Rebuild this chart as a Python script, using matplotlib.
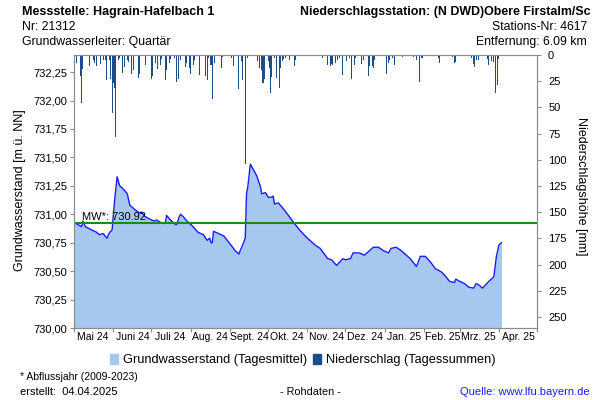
import pandas as pd
import matplotlib
matplotlib.use('Agg')
import matplotlib.pyplot as plt
from matplotlib.patches import Patch
from matplotlib.ticker import FuncFormatter

plt.rcParams['font.family'] = ['Liberation Sans', 'DejaVu Sans']

# days counted from 01.05.2024
start = pd.Timestamp('2024-05-01')

gw_days = [0, 6, 7, 9, 18, 20, 23, 26, 28, 30, 32, 34, 36, 39, 42, 44, 48, 52, 53, 56,
           61, 64, 65, 68, 69, 72, 73, 76, 77, 80, 81, 83, 84, 86, 89, 93, 98, 102, 105, 107,
           108, 109, 110, 114, 118, 123, 127, 130, 131, 133, 135, 136, 137, 139, 141, 144, 147, 148, 151, 153,
           156, 157, 158, 161, 165, 169, 173, 178, 183, 190, 194, 200, 203, 207, 212, 214, 218, 220, 225, 229,
           233, 236, 240, 244, 248, 250, 254, 258, 265, 270, 273, 277, 281, 285, 287, 290, 294, 296, 300, 301,
           304, 308, 311, 315, 317, 319, 322, 327, 331, 333, 335, 337]
gw_level = [730.93, 730.89, 730.94, 730.89, 730.84, 730.82, 730.83, 730.79, 730.84, 730.86,
            731.12, 731.33, 731.25, 731.22, 731.18, 731.08, 731.04, 731.01, 731.02, 730.98,
            730.95, 730.94, 730.95, 730.93, 730.92, 730.92, 730.99, 730.95, 730.94, 730.91,
            730.91, 730.98, 731.00, 730.98, 730.94, 730.90, 730.84, 730.82, 730.77, 730.79,
            730.75, 730.75, 730.85, 730.83, 730.81, 730.74, 730.68, 730.65, 730.68, 730.73,
            730.79, 731.18, 731.24, 731.44, 731.40, 731.34, 731.24, 731.18, 731.19, 731.15,
            731.15, 731.16, 731.09, 731.10, 731.05, 730.99, 730.93, 730.86, 730.80, 730.73,
            730.70, 730.61, 730.60, 730.55, 730.61, 730.60, 730.61, 730.66, 730.66, 730.64,
            730.68, 730.71, 730.71, 730.68, 730.66, 730.70, 730.71, 730.68, 730.61, 730.54,
            730.63, 730.63, 730.58, 730.52, 730.51, 730.49, 730.44, 730.41, 730.40, 730.43,
            730.41, 730.39, 730.36, 730.35, 730.39, 730.38, 730.35, 730.41, 730.45, 730.63,
            730.73, 730.75]

rain_days = [2, 5, 6, 7, 12, 15, 16, 18, 21, 23, 25, 26, 28, 29, 30, 31, 32, 33, 35, 36,
             38, 40, 42, 43, 45, 47, 51, 52, 56, 61, 62, 64, 66, 68, 69, 72, 73, 75, 76, 79,
             81, 82, 84, 88, 89, 91, 92, 94, 95, 99, 104, 105, 106, 108, 109, 111, 116, 117, 124, 126,
             130, 132, 133, 135, 137, 145, 146, 148, 149, 150, 153, 154, 155, 156, 158, 160, 162, 163, 164, 165,
             167, 170, 174, 175, 196, 200, 202, 203, 204, 206, 208, 209, 212, 215, 217, 219, 221, 222, 227, 228,
             232, 233, 235, 236, 237, 246, 248, 249, 251, 253, 259, 268, 270, 272, 274, 275, 287, 288, 298, 300,
             301, 313, 315, 316, 317, 319, 326, 327, 329, 331, 332, 334, 335]
rain_mm = [7.6, 19.7, 45.5, 13.4, 10.8, 4.5, 7.6, 10.2, 8.3, 5, 4.5, 24, 4.5, 23, 55.6, 26.7, 31.5, 78, 4.5, 2.9,
           17.2, 11.4, 4.5, 6.7, 17.8, 14, 22, 17.8, 9.2, 23, 20.4, 7.6, 13.4, 9.2, 3.8, 23.5, 14, 7.6, 3.8, 2.9,
           26, 23, 5, 11.4, 7.6, 12.4, 17.8, 9.2, 4.5, 18.8, 19.7, 24, 2.9, 9.2, 42, 7.6, 12.4, 1.9, 2.9, 10.2,
           32, 6, 23.5, 104, 2.9, 6, 12.4, 14, 27, 23, 6, 12.4, 36, 21, 2.9, 22, 31.5, 12.4, 6, 3.8,
           2.9, 5, 10.8, 4.5, 2.9, 9.2, 10.8, 8.3, 9.2, 7.6, 4.5, 2.5, 18.8, 6, 2.9, 23, 10, 2.9, 8.3, 4.5,
           19.7, 10.2, 10.8, 12.4, 4.5, 17.8, 7.6, 4.5, 2.9, 9.9, 1.9, 1.9, 4.5, 26, 2.9, 2.9, 2.9, 7.6, 1.9, 7.6,
           7, 2.9, 8.3, 11.4, 4.5, 4.5, 3.8, 9.2, 6, 7, 36, 29, 3.8]

mean_level = 730.92
month_labels = ['Mai 24', 'Juni 24', 'Juli 24', 'Aug. 24', 'Sept. 24', 'Okt. 24',
                'Nov. 24', 'Dez. 24', 'Jan. 25', 'Feb. 25', 'Mrz. 25', 'Apr. 25']

gw_dates = start + pd.to_timedelta(gw_days, unit='D')
rain_dates = start + pd.to_timedelta(rain_days, unit='D')
month_starts = pd.date_range('2024-05-01', periods=13, freq='MS')
month_mids = month_starts[:-1] + pd.Timedelta(days=15)

grey = '#8c8c8c'
rain_col = '#1d4c86'

fig = plt.figure(figsize=(6, 4), dpi=100)
ax = fig.add_axes([74/600, 72/400, 463/600, 273/400])

ax.fill_between(gw_dates, 730, gw_level, color='#a6c8ef', lw=0)
ax.plot(gw_dates, gw_level, color='#1a1aff', lw=1)
ax.axhline(mean_level, color='#1a8a1a', lw=1.5)
ax.text(start + pd.Timedelta(days=6), mean_level + 0.012, 'MW*: 730.92', fontsize=8, va='bottom')

ax.set_xlim(month_starts[0], month_starts[-1])
ax.set_ylim(730, 732.4)
ax.set_yticks([730 + 0.25 * i for i in range(10)])
ax.yaxis.set_major_formatter(FuncFormatter(lambda v, p: f'{v:.2f}'.replace('.', ',')))
ax.set_xticks(month_starts)
ax.set_xticklabels([])
ax.set_xticks(month_mids, minor=True)
ax.set_xticklabels(month_labels, minor=True, fontsize=7.5)
ax.tick_params(axis='x', which='minor', length=0, pad=3)
ax.tick_params(axis='x', which='major', length=3, color=grey)
ax.tick_params(axis='y', length=3, color=grey, labelsize=8, pad=2)

ax2 = ax.twinx()
ax2.bar(rain_dates, rain_mm, width=0.8, color=rain_col, lw=0)
ax2.set_ylim(260.5, 0)
ax2.set_yticks(range(0, 251, 25))
ax2.tick_params(axis='y', length=3, color=grey, labelsize=8, pad=5)

for a in (ax, ax2):
    for s in a.spines.values():
        s.set_color(grey)

fig.text(20/600, 1 - 190/400, 'Grundwasserstand [m ü. NN]', rotation=90, fontsize=9, ha='center', va='center')
fig.text(581/600, 1 - 186/400, 'Niederschlagshöhe [mm]', rotation=270, fontsize=9, ha='center', va='center')

# header
fig.text(22/600, 1 - 12/400, 'Messstelle: Hagrain-Hafelbach 1', fontsize=9, fontweight='bold', va='center')
fig.text(22/600, 1 - 27/400, 'Nr: 21312', fontsize=8.8, va='center')
fig.text(22/600, 1 - 42/400, 'Grundwasserleiter: Quartär', fontsize=8.8, va='center')
fig.text(590/600, 1 - 12/400, 'Niederschlagsstation: (N DWD)Obere Firstalm/Sc', fontsize=8.9,
         fontweight='bold', va='center', ha='right')
fig.text(587/600, 1 - 27/400, 'Stations-Nr: 4617', fontsize=8.8, va='center', ha='right')
fig.text(587/600, 1 - 42/400, 'Entfernung: 6.09 km', fontsize=8.8, va='center', ha='right')

handles = [Patch(color='#a6c8ef', label='Grundwasserstand (Tagesmittel)'),
           Patch(color=rain_col, label='Niederschlag (Tagessummen)')]
fig.legend(handles=handles, loc='center', bbox_to_anchor=(303/600, 1 - 360/400), ncol=2,
           frameon=False, fontsize=9.2, handlelength=0.6, handleheight=0.9,
           handletextpad=0.4, columnspacing=0.5)

# footer
fig.text(20/600, 1 - 377/400, '* Abflussjahr (2009-2023)', fontsize=7.5, va='center')
fig.text(20/600, 1 - 392/400, 'erstellt:  04.04.2025', fontsize=8, va='center')
fig.text(310/600, 1 - 392/400, '- Rohdaten -', fontsize=7.8, va='center', ha='center')
fig.text(590/600, 1 - 392/400, 'Quelle: www.lfu.bayern.de', fontsize=8, va='center', ha='right',
         color='#1a1aff')

fig.savefig('out.png', dpi=100)
